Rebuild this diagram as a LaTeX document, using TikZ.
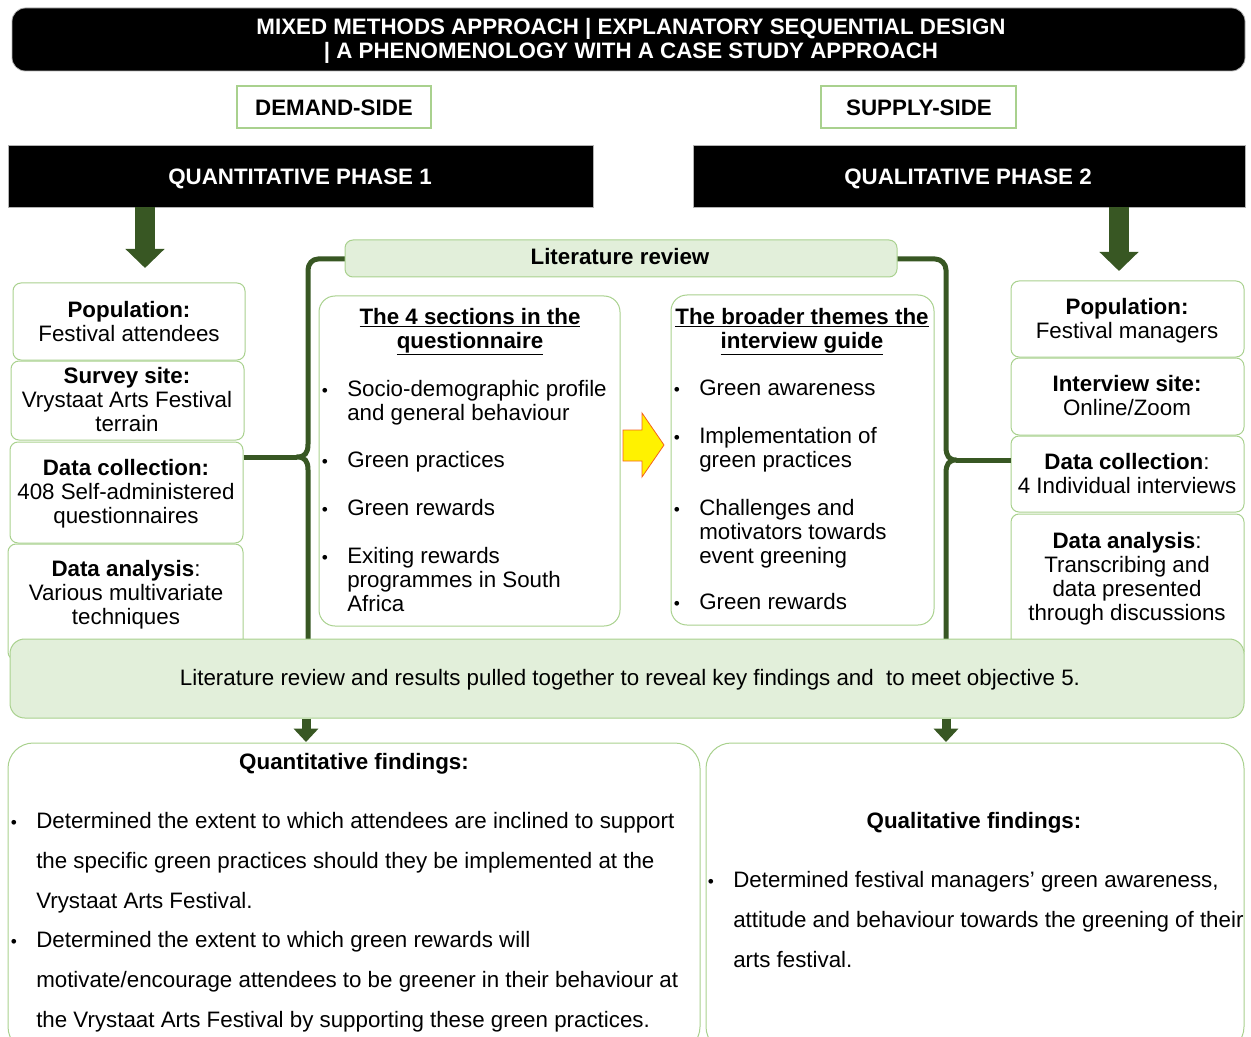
\documentclass[tikz,border=0pt]{standalone}
\usepackage{fontspec}
\setmainfont{Liberation Sans}
\usetikzlibrary{fit,arrows.meta}
\definecolor{dkgreen}{HTML}{385723}
\definecolor{ltline}{HTML}{A9D18E}
\definecolor{ltfill}{HTML}{E2EFDA}
\definecolor{arrowedge}{HTML}{F4631E}
\newcommand{\txt}{\fontsize{16.75}{18}\selectfont}
\newcommand{\wide}{\fontsize{16.75}{30}\selectfont}
\newcommand{\bul}{{\fontsize{13}{13}\selectfont\textbullet}}
\begin{document}
\begin{tikzpicture}[x=0.75pt,y=-0.75pt,
  every node/.style={inner sep=0pt, font=\txt},
  sidebox/.style={draw=ltline, line width=0.75pt, fill=white, rounded corners=6pt, inner sep=0pt},
  tagbox/.style={draw=ltline, line width=0.9pt, fill=white, inner sep=0pt},
  blackbox/.style={draw=gray!60, fill=black, line width=0.6pt, inner sep=0pt},
  panel/.style={draw=ltline, line width=0.75pt, fill=white, rounded corners=12pt, inner sep=0pt},
  findbox/.style={draw=ltline, line width=0.75pt, fill=white, rounded corners=19pt, inner sep=0pt},
  greenpanel/.style={draw=ltline, line width=0.75pt, fill=ltfill, rounded corners=10pt, inner sep=0pt},
  brace/.style={draw=dkgreen, line width=3.75pt, line join=round},
  bigarrow/.style={draw=dkgreen, line width=15pt, -{Triangle[width=28.5pt,length=14.25pt]}},
  smallarrow/.style={draw=dkgreen, line width=6.75pt, -{Triangle[width=18pt,length=10pt]}},
  lbl/.style={anchor=base, align=center},
  lft/.style={anchor=base west, align=left},
  bt/.style={anchor=base}
]
\clip (0,0) rectangle (1251,1037);

% ---------- title banner ----------
\node[blackbox, rounded corners=10pt, fit={(12,8)(1245,71)}] (banner) {};
\node[lbl, text=white, font=\bfseries\fontsize{16.75}{18}\selectfont] (bannertxt) at (631,59)
  {MIXED METHODS APPROACH | EXPLANATORY SEQUENTIAL DESIGN\\| A PHENOMENOLOGY WITH A CASE STUDY APPROACH};

% ---------- side tags ----------
\node[tagbox, fit={(237,86)(431,128)}] (demand) {};
\node[lbl, font=\bfseries\txt] (demandtxt) at (334,116) {DEMAND-SIDE};
\node[tagbox, fit={(821,86)(1016,128)}] (supply) {};
\node[lbl, font=\bfseries\txt] (supplytxt) at (919,116) {SUPPLY-SIDE};

% ---------- phase bars ----------
\node[blackbox, fit={(8,145)(593,207)}] (quant) {};
\node[lbl, text=white, font=\bfseries\txt] (quanttxt) at (300,185) {QUANTITATIVE PHASE 1};
\node[blackbox, fit={(693,145)(1245,207)}] (qual) {};
\node[lbl, text=white, font=\bfseries\txt] (qualtxt) at (968,185) {QUALITATIVE PHASE 2};

% ---------- phase arrows ----------
\coordinate (qa1) at (145,268);
\coordinate (qa2) at (1119,271);
\draw[bigarrow] (quant.south -| qa1) -- (qa1);
\draw[bigarrow] (qual.south -| qa2) -- (qa2);

% ---------- demand-side boxes ----------
\node[sidebox, fit={(13,283)(245,360)}] (lpop) {};
\node[lbl] (lpoptxt) at (129,341) {\textbf{Population:}\\Festival attendees};
\node[sidebox, fit={(11,361)(244,440)}] (lsite) {};
\node[lbl] (lsitetxt) at (127,431) {\textbf{Survey site:}\\Vrystaat Arts Festival\\terrain};
\node[sidebox, fit={(10,442)(243,543)}] (ldc) {};
\node[lbl] (ldctxt) at (126,523) {\textbf{Data collection:}\\408 Self-administered\\questionnaires};
\node[sidebox, fit={(8,544)(243,660)}] (lda) {};
\node[lbl] (ldatxt) at (126,624) {\textbf{Data analysis}:\\Various multivariate\\techniques};

% ---------- supply-side boxes ----------
\node[sidebox, fit={(1011,281)(1244,357)}] (rpop) {};
\node[lbl] (rpoptxt) at (1127,338) {\textbf{Population:}\\Festival managers};
\node[sidebox, fit={(1011,358)(1244,435)}] (rsite) {};
\node[lbl] (rsitetxt) at (1127,415) {\textbf{Interview site:}\\Online/Zoom};
\node[sidebox, fit={(1011,436)(1244,512)}] (rdc) {};
\node[lbl] (rdctxt) at (1127,493) {\textbf{Data collection}:\\4 Individual interviews};
\node[sidebox, fit={(1011,514)(1244,660)}] (rda) {};
\node[lbl] (rdatxt) at (1127,620) {\textbf{Data analysis}:\\Transcribing and\\data presented\\through discussions};

% ---------- braces ----------
\coordinate (ltip) at (297,457);
\coordinate (rtip) at (956,460);
\draw[brace] (345,259) -- (318,259) to[out=180,in=90] (308,270) -- (308,444)
  .. controls (308,453) and (305,457) .. (ltip)
  .. controls (305,457) and (308,461) .. (308,470) -- (308,645);
\draw[brace] (ldc.east |- ltip) -- (ltip);
\draw[brace] (897,259) -- (935,259) to[out=0,in=90] (946,270) -- (946,447)
  .. controls (946,456) and (949,460) .. (rtip)
  .. controls (949,460) and (946,464) .. (946,473) -- (946,645);
\draw[brace] (rtip) -- (rdc.west |- rtip);

% ---------- literature review header ----------
\node[greenpanel, rounded corners=6pt, fit={(345,240)(897,277)}] (litrev) {};
\node[lbl, font=\bfseries\txt] (litrevtxt) at (620,265) {Literature review};

% ---------- questionnaire panel ----------
\node[panel, fit={(319,296)(620,626)}] (qpanel) {};
\node[lbl, font=\bfseries\txt] (qhead) at (470,348) {\underline{The 4 sections in the}\\\underline{questionnaire}};
\node[bt] (qb1) at (325,396) {\bul};
\node[lft] (qi1) at (347,420) {Socio-demographic profile\\and general behaviour};
\node[bt] (qb2) at (325,467) {\bul};
\node[lft] (qi2) at (347,467) {Green practices};
\node[bt] (qb3) at (325,515) {\bul};
\node[lft] (qi3) at (347,515) {Green rewards};
\node[bt] (qb4) at (325,563) {\bul};
\node[lft] (qi4) at (347,611) {Exiting rewards\\programmes in South\\Africa};

% ---------- interview guide panel ----------
\node[panel, fit={(671,295)(934,625)}] (ipanel) {};
\node[lbl, font=\bfseries\txt] (ihead) at (802,348) {\underline{The broader themes the}\\\underline{interview guide}};
\node[bt] (ib1) at (677,395) {\bul};
\node[lft] (ii1) at (699,395) {Green awareness};
\node[bt] (ib2) at (677,443) {\bul};
\node[lft] (ii2) at (699,467) {Implementation of\\green practices};
\node[bt] (ib3) at (677,515) {\bul};
\node[lft] (ii3) at (699,563) {Challenges and\\motivators towards\\event greening};
\node[bt] (ib4) at (677,609) {\bul};
\node[lft] (ii4) at (699,609) {Green rewards};

% ---------- block arrow between the two panels ----------
\filldraw[fill=yellow, draw=arrowedge, line width=0.6pt, line join=miter]
  (623,430) -- (642,430) -- (642,413) -- (664,445) -- (642,477) -- (642,461) -- (623,461) -- cycle;

% ---------- synthesis band ----------
\node[greenpanel, rounded corners=11pt, fit={(10,639)(1244,718)}] (band) {};
\node[lbl] (bandtxt) at (630,685) {Literature review and results pulled together to reveal key findings and\ \ to meet objective 5.};

% ---------- findings ----------
\node[findbox, fit={(8,743)(700,1052)}] (qfind) {};
\node[findbox, fit={(706,743)(1244,1052)}] (lfind) {};
\coordinate (fa1) at (306,742);
\coordinate (fa2) at (946,742);
\draw[smallarrow] (band.south -| fa1) -- (fa1);
\draw[smallarrow] (band.south -| fa2) -- (fa2);

\node[lbl, font=\bfseries\txt] (qfhead) at (354,769) {Quantitative findings:};
\node[bt] (qfb1) at (14,828) {\bul};
\node[lft, font=\wide] (qf1) at (36,908) {Determined the extent to which attendees are inclined to support\\the specific green practices should they be implemented at the\\Vrystaat Arts Festival.};
\node[bt] (qfb2) at (14,947) {\bul};
\node[lft, font=\wide] (qf2) at (36,1027) {Determined the extent to which green rewards will\\motivate/encourage attendees to be greener in their behaviour at\\the Vrystaat Arts Festival by supporting these green practices.};

\node[lbl, font=\bfseries\txt] (lfhead) at (974,828) {Qualitative findings:};
\node[bt] (lfb1) at (711,887) {\bul};
\node[lft, font=\wide] (lf1) at (733,967) {Determined festival managers’ green awareness,\\attitude and behaviour towards the greening of their\\arts festival.};
\end{tikzpicture}
\end{document}
